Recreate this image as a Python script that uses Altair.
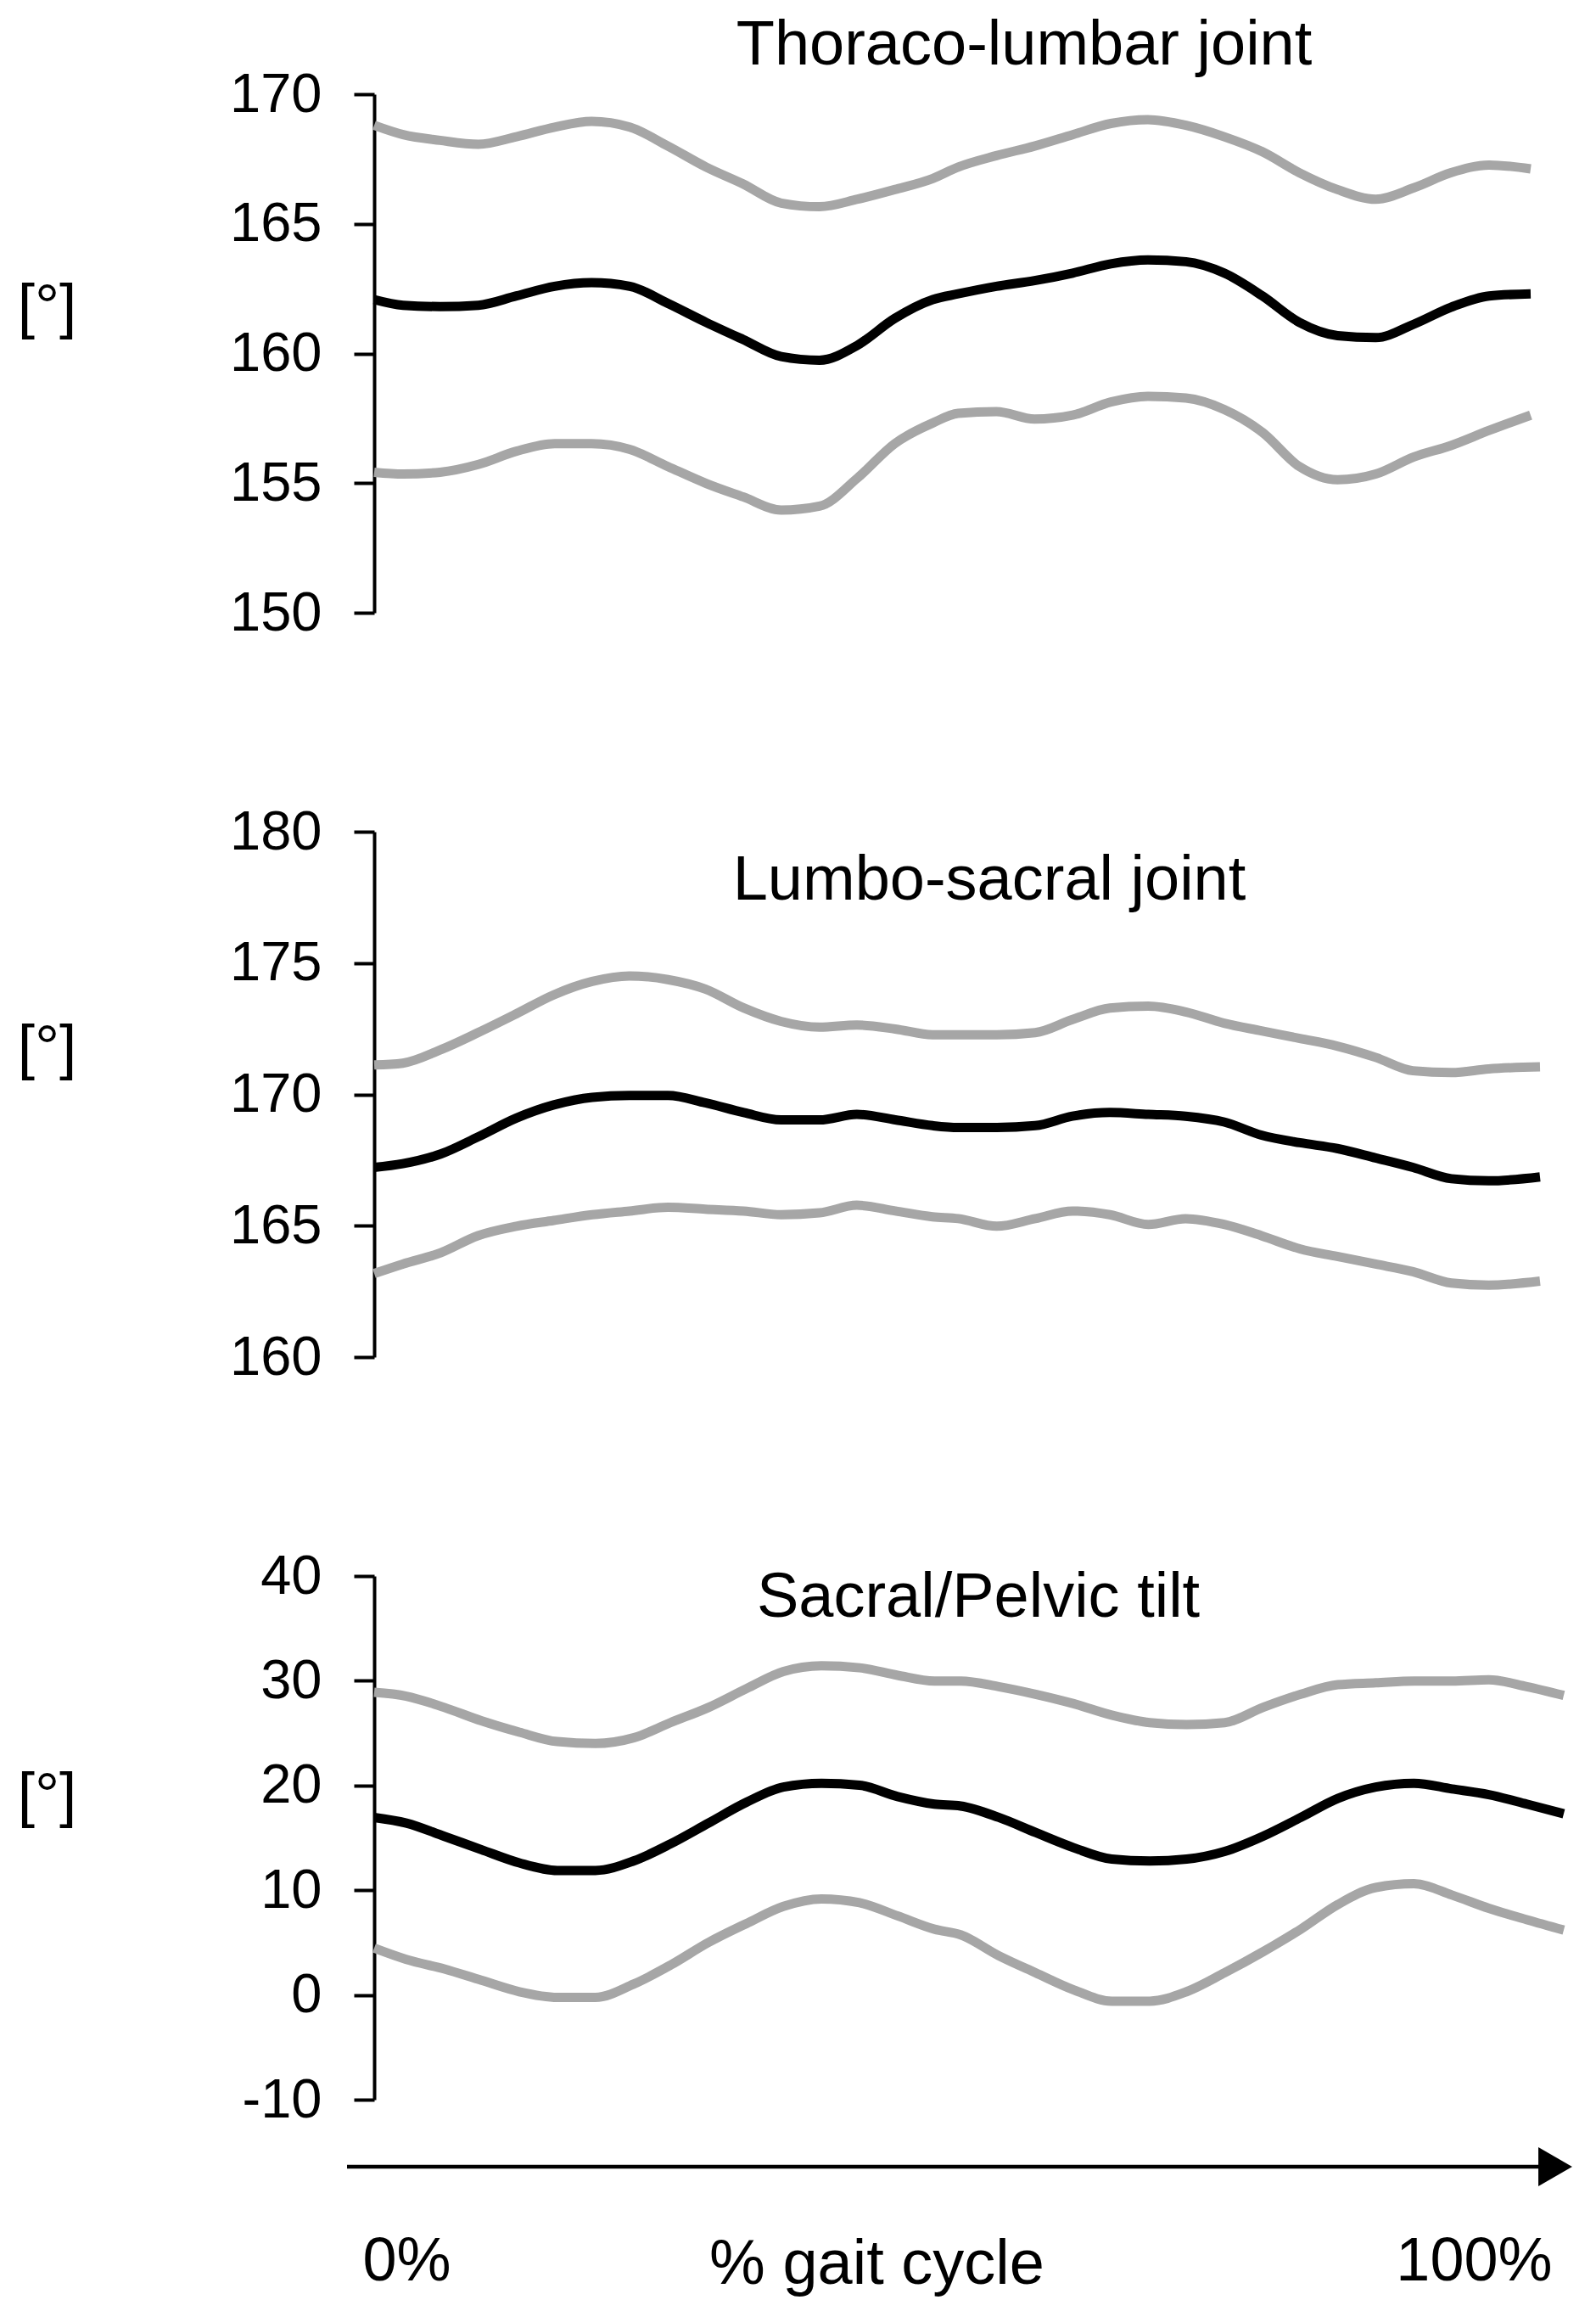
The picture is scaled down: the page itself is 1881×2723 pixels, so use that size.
import altair as alt
import pandas as pd

# ---------------- data ----------------
# Thoraco-lumbar joint
tl_x = [0, 2.5, 5.7, 9.0, 12.3, 15.6, 18.8, 22.1, 25.4, 28.7, 31.9, 35.2, 38.5, 41.8, 45.0, 48.3,
        50.5, 53.8, 57.1, 60.4, 63.7, 66.9, 70.2, 73.5, 76.8, 80.0, 83.3, 86.6, 89.9, 93.1, 96.4, 100]
tl_upper = [168.8, 168.44, 168.22, 168.07, 168.36, 168.73, 168.95, 168.73, 168.0, 167.19, 166.54, 165.80,
            165.66, 165.95, 166.32, 166.75, 167.19, 167.63, 168.0, 168.44, 168.87, 169.02, 168.8, 168.36,
            167.78, 166.97, 166.32, 165.95, 166.39, 166.97, 167.27, 167.12]
tl_mean = [162.08, 161.86, 161.81, 161.86, 162.22, 162.59, 162.73, 162.59, 161.93, 161.20, 160.54, 159.88,
           159.74, 160.32, 161.35, 162.08, 162.30, 162.59, 162.81, 163.10, 163.46, 163.61, 163.54, 163.10,
           162.22, 161.20, 160.69, 160.61, 161.13, 161.78, 162.22, 162.30]
tl_lower = [155.42, 155.35, 155.42, 155.72, 156.23, 156.52, 156.52, 156.30, 155.64, 154.99, 154.47, 153.96,
            154.11, 155.20, 156.52, 157.32, 157.69, 157.76, 157.47, 157.62, 158.13, 158.35, 158.28, 157.84,
            156.96, 155.64, 155.13, 155.35, 156.01, 156.45, 157.03, 157.62]

# Lumbo-sacral joint
ls_x = [0, 2.45, 5.7, 8.9, 12.2, 15.4, 18.7, 21.9, 25.2, 28.4, 31.7, 34.9, 38.2, 41.4, 44.7, 47.9,
        50.1, 53.4, 56.7, 59.9, 63.1, 66.4, 69.6, 72.9, 76.1, 79.4, 82.6, 85.9, 89.1, 92.4, 95.6, 100]
ls_upper = [171.12, 171.19, 171.70, 172.35, 173.07, 173.79, 174.30, 174.51, 174.37, 174.01, 173.29, 172.78,
            172.56, 172.64, 172.49, 172.27, 172.27, 172.27, 172.35, 172.85, 173.29, 173.36, 173.14, 172.71,
            172.42, 172.13, 171.84, 171.41, 170.90, 170.83, 170.97, 171.05]
ls_mean = [167.22, 167.36, 167.73, 168.38, 169.10, 169.60, 169.89, 169.96, 169.96, 169.68, 169.31, 169.03,
           169.03, 169.24, 169.03, 168.81, 168.74, 168.74, 168.81, 169.17, 169.31, 169.24, 169.17, 168.95,
           168.45, 168.16, 167.94, 167.58, 167.22, 166.79, 166.71, 166.86]
ls_lower = [163.18, 163.54, 163.97, 164.62, 164.98, 165.20, 165.42, 165.56, 165.70, 165.63, 165.56, 165.42,
            165.49, 165.78, 165.56, 165.34, 165.27, 164.98, 165.27, 165.56, 165.42, 165.05, 165.27, 165.05,
            164.62, 164.12, 163.83, 163.54, 163.25, 162.82, 162.74, 162.89]

# Sacral/Pelvic tilt
sp_x = [0, 2.7, 5.9, 9.0, 12.2, 15.4, 18.6, 21.8, 24.9, 28.1, 31.3, 34.4, 37.6, 40.8, 44.0, 47.1,
        49.3, 52.5, 55.6, 58.8, 62.0, 65.2, 68.3, 71.5, 74.7, 77.9, 81.0, 84.2, 87.4, 90.6, 93.7, 96.9, 100]
sp_upper = [28.89, 28.53, 27.45, 26.18, 25.09, 24.19, 24.01, 24.55, 26.0, 27.45, 29.25, 30.88, 31.43, 31.24,
            30.52, 29.98, 29.98, 29.44, 28.71, 27.81, 26.72, 26.0, 25.82, 26.0, 27.45, 28.71, 29.62, 29.80,
            29.98, 29.98, 30.09, 29.44, 28.6]
sp_mean = [16.95, 16.41, 15.14, 13.88, 12.61, 11.89, 11.89, 12.79, 14.42, 16.41, 18.40, 19.85, 20.21, 20.03,
           18.94, 18.22, 18.04, 16.95, 15.51, 14.06, 12.97, 12.79, 12.97, 13.70, 15.14, 16.95, 18.76, 19.85,
           20.21, 19.67, 19.12, 18.22, 17.3]
sp_lower = [4.47, 3.39, 2.48, 1.40, 0.31, -0.23, -0.23, 1.03, 2.84, 5.01, 6.82, 8.45, 9.17, 8.81, 7.55, 6.28,
            5.74, 3.75, 2.12, 0.49, -0.59, -0.59, 0.31, 2.12, 4.11, 6.28, 8.63, 10.26, 10.62, 9.54, 8.27,
            7.18, 6.2]

titles = ["Thoraco-lumbar joint", "Lumbo-sacral joint", "Sacral/Pelvic tilt"]
y_domains = [[150, 170], [160, 180], [-10, 40]]
y_ticks = [[150, 155, 160, 165, 170], [160, 165, 170, 175, 180], [-10, 0, 10, 20, 30, 40]]
x_ticks = [0, 100]
unit_label = "[°]"
x_title = "% gait cycle"

GRAY = "#a6a6a6"
FONT = "Liberation Sans"
LW = 11


def make_df(x, up, mean, lo):
    n = len(x)
    return pd.DataFrame({
        "pct": list(x) * 3,
        "val": list(up) + list(mean) + list(lo),
        "series": ["upper"] * n + ["mean"] * n + ["lower"] * n,
    })


def y_axis(vals, title_y):
    return alt.Axis(values=vals, labelExpr="toString(datum.value)",
                    title=unit_label, titleAngle=0, titleX=-386, titleY=title_y,
                    titleAlign="center", titleBaseline="middle", titleFontSize=73,
                    titleFontWeight="normal", titleColor="black", titleFont=FONT,
                    labelFontSize=65, labelPadding=38, labelColor="black", labelFont=FONT,
                    tickSize=24, tickWidth=4, tickColor="black", domainWidth=4,
                    domainColor="black", grid=False, labelOverlap=False)


def lines(df, ydom, yvals, title_y, xaxis):
    return alt.Chart(df).mark_line(strokeWidth=LW, interpolate="monotone").encode(
        x=alt.X("pct:Q", scale=alt.Scale(domain=[0, 100], nice=False, zero=False), axis=xaxis),
        y=alt.Y("val:Q", scale=alt.Scale(domain=ydom, nice=False, zero=False),
                axis=y_axis(yvals, title_y)),
        color=alt.Color("series:N", scale=alt.Scale(domain=["upper", "lower", "mean"],
                                                     range=[GRAY, GRAY, "#000000"]), legend=None),
        detail="series:N",
    )


def title_text(text, x, y):
    return alt.Chart(pd.DataFrame({"t": [text]})).mark_text(
        fontSize=74, font=FONT, align="center", baseline="alphabetic", color="black").encode(
        text="t:N", x=alt.value(x), y=alt.value(y))


one = pd.DataFrame({"k": [0]})

# Panel 1
W1, H1 = 1363, 611
p1 = alt.layer(lines(make_df(tl_x, tl_upper, tl_mean, tl_lower), y_domains[0], y_ticks[0], 251, None),
               title_text(titles[0], 766, -35)).properties(width=W1, height=H1)

# Panel 2
W2, H2 = 1374, 619
p2 = alt.layer(lines(make_df(ls_x, ls_upper, ls_mean, ls_lower), y_domains[1], y_ticks[1], 255, None),
               title_text(titles[1], 725, 80)).properties(width=W2, height=H2)

# Panel 3
W3, H3 = 1402, 617
x_axis3 = alt.Axis(values=x_ticks, labelExpr="datum.value + '%'", domain=False, ticks=False,
                   labelFontSize=72, labelFont=FONT, labelColor="black", labelBaseline="alphabetic",
                   labelPadding=212, labelFlush=True, labelOverlap=False, labelLimit=600,
                   labelOffset=-14,
                   title=x_title, titleFontSize=74, titleFont=FONT, titleFontWeight="normal",
                   titleColor="black", titleX=592, titleY=216, titleBaseline="alphabetic",
                   titleAlign="center", grid=False)
arrow_line = alt.Chart(one).mark_rule(strokeWidth=4.5, color="black").encode(
    x=alt.value(-32), x2=alt.value(1375), y=alt.value(H3 + 79))
arrow_head = alt.Chart(one).mark_point(shape="triangle-right", size=2116, filled=True, opacity=1,
                                       color="black", strokeWidth=0).encode(
    x=alt.value(1392), y=alt.value(H3 + 79))
p3 = alt.layer(lines(make_df(sp_x, sp_upper, sp_mean, sp_lower), y_domains[2], y_ticks[2], 259, x_axis3),
               title_text(titles[2], 712, 48), arrow_line, arrow_head).properties(width=W3, height=H3)

chart = alt.vconcat(p1, p2, p3, spacing=258, bounds="flush").properties(
    padding={"left": 12, "top": 9, "right": 5, "bottom": 5}
).configure(font=FONT, background="white").configure_view(stroke=None)

chart.save("out.html", embed_options={"renderer": "svg", "actions": False})
